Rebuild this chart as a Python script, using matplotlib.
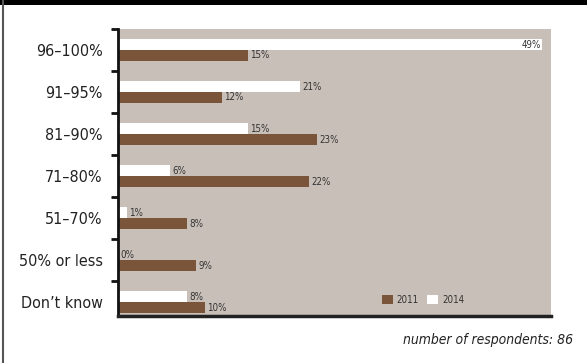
import matplotlib
matplotlib.use("Agg")
import matplotlib.pyplot as plt
from matplotlib.patches import Rectangle, Patch
import numpy as np

categories = ["96–100%", "91–95%", "81–90%", "71–80%", "51–70%", "50% or less", "Don’t know"]
values_2011 = [15, 12, 23, 22, 8, 9, 10]
values_2014 = [49, 21, 15, 6, 1, 0, 8]
series_names = ["2011", "2014"]
footnote = "number of respondents: 86"

BROWN = "#7b5539"
PANEL = "#c8bfb9"
TEXT = "#333333"

plt.rcParams["font.family"] = ["DejaVu Sans"]
plt.rcParams["font.stretch"] = "condensed"

fig = plt.figure(figsize=(5.87, 3.63), dpi=100)
ax = fig.add_axes([0.201, 0.1295, 0.7377, 0.7906])
ax.set_facecolor(PANEL)

y = np.arange(len(categories))
h = 0.26
xmax = 50

ax.barh(y - h / 2, values_2014, height=h, color="white", label=series_names[1])
ax.barh(y + h / 2, values_2011, height=h, color=BROWN, label=series_names[0])

for yi, v in zip(y, values_2014):
    if v + 3 > xmax:
        ax.text(v - 0.1, yi - h / 2, f"{v}%", ha="right", va="center", fontsize=7, color=TEXT)
    else:
        ax.text(v + 0.3, yi - h / 2, f"{v}%", ha="left", va="center", fontsize=7, color=TEXT)
for yi, v in zip(y, values_2011):
    ax.text(v + 0.3, yi + h / 2, f"{v}%", ha="left", va="center", fontsize=7, color=TEXT)

ax.set_xlim(0, xmax)
ax.set_ylim(6.33, -0.5)
ax.set_xticks([])
ax.set_yticks(y)
ax.set_yticklabels(categories, fontsize=11.5, color="#222222")
ax.tick_params(axis="y", which="major", length=0, pad=11)
ax.set_yticks(np.arange(-0.5, 6, 1.0), minor=True)
ax.tick_params(axis="y", which="minor", length=5, width=2, color="#111111")

for side in ["top", "right"]:
    ax.spines[side].set_visible(False)
ax.spines["left"].set_linewidth(2)
ax.spines["left"].set_color("#111111")
ax.spines["bottom"].set_linewidth(2.5)
ax.spines["bottom"].set_color("#222222")

handles = [Patch(facecolor=BROWN, edgecolor="none"), Patch(facecolor="white", edgecolor="none")]
fig.legend(handles, series_names, loc="center left", bbox_to_anchor=(382 / 587, 1 - 300 / 363),
           ncol=2, frameon=False, fontsize=7, handlelength=1.1, handleheight=1.1,
           handletextpad=0.4, columnspacing=0.9, borderpad=0, borderaxespad=0,
           labelcolor=TEXT)

fig.text(573 / 587, 1 - 340 / 363, footnote, ha="right", va="center", fontsize=10,
         style="italic", color="#222222")

# top black band and left border line
fig.patches.append(Rectangle((0, 1 - 5 / 363), 1, 5 / 363, transform=fig.transFigure,
                             facecolor="black", edgecolor="none"))
fig.add_artist(plt.Line2D([2.5 / 587, 2.5 / 587], [0, 1], transform=fig.transFigure,
                          color="#555555", linewidth=1.5))

fig.savefig("out.png", dpi=100)
